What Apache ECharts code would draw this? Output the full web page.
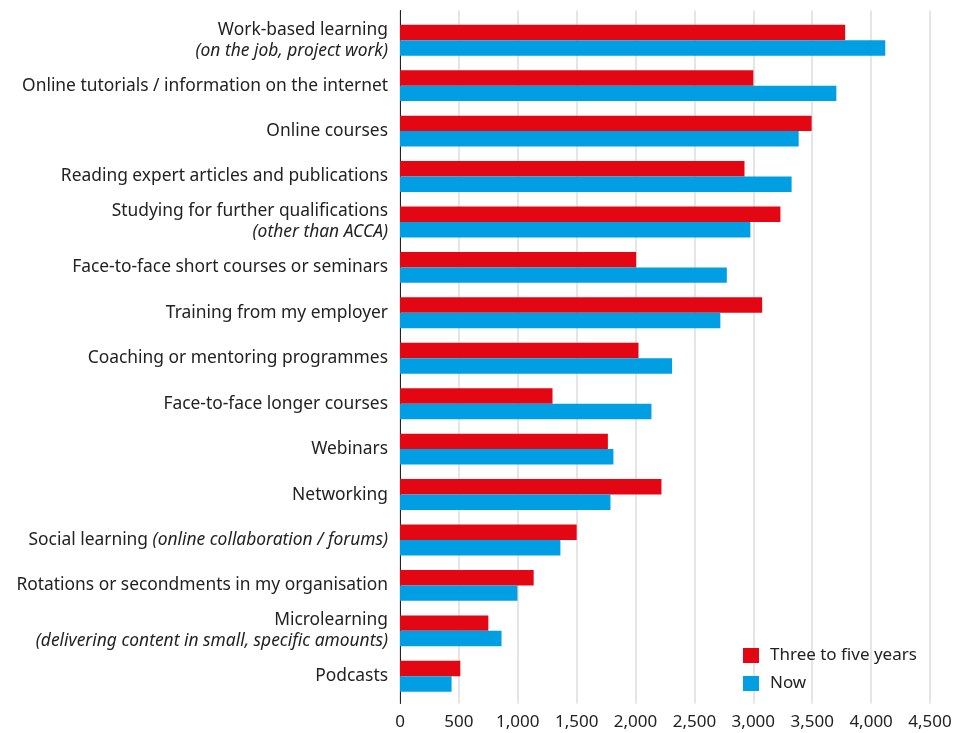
<!DOCTYPE html>
<html><head><meta charset="utf-8">
<script src="https://cdn.jsdelivr.net/npm/echarts@6/dist/echarts.min.js"></script>
<style>html,body{margin:0;padding:0;background:#fff}#c{width:965px;height:733px}</style>
</head><body><div id="c"></div>
<script>
const categories = [
  "Work-based learning\n(on the job, project work)",
  "Online tutorials / information on the internet",
  "Online courses",
  "Reading expert articles and publications",
  "Studying for further qualifications\n(other than ACCA)",
  "Face-to-face short courses or seminars",
  "Training from my employer",
  "Coaching or mentoring programmes",
  "Face-to-face longer courses",
  "Webinars",
  "Networking",
  "Social learning (online collaboration / forums)",
  "Rotations or secondments in my organisation",
  "Microlearning\n(delivering content in small, specific amounts)",
  "Podcasts"
];
const threeToFive = [3780, 3000, 3495, 2925, 3230, 2005, 3075, 2025, 1295, 1765, 2220, 1500, 1135, 750, 512];
const now = [4120, 3705, 3385, 3325, 2975, 2775, 2720, 2310, 2135, 1812, 1787, 1362, 997, 862, 438];
const xTicks = [0, 500, 1000, 1500, 2000, 2500, 3000, 3500, 4000, 4500];

const FONT = '"Noto Sans"';
const FS = 17;
const FSY = 17.4;
const chart = echarts.init(document.getElementById('c'));
function fmtLabel(v) {
  return v.split('\n').map(line =>
    line.replace(/\(([^)]*)\)/g, '{i|($1)}')
  ).join('\n');
}
chart.setOption({
  animation: false,
  textStyle: { fontFamily: FONT },
  legend: {
    orient: 'vertical', left: 738, top: 642,
    itemWidth: 16, itemHeight: 15, itemGap: 11,
    icon: 'rect',
    textStyle: { fontSize: FS, color: '#222', fontFamily: FONT, padding: [0, 0, 0, 6] },
    data: ['Three to five years', 'Now']
  },
  grid: [
    { left: 400, right: 35, top: 17.5, bottom: 34 },
    { left: 400, right: 35, top: 10.5, bottom: 29.5 }
  ],
  xAxis: [
    { gridIndex: 0, type: 'value', min: xTicks[0], max: xTicks[xTicks.length - 1], interval: 500,
      axisLine: { show: false }, axisTick: { show: false }, axisLabel: { show: false }, splitLine: { show: false } },
    { gridIndex: 1, type: 'value', min: xTicks[0], max: xTicks[xTicks.length - 1], interval: 500,
      axisLine: { show: false }, axisTick: { show: false },
      axisLabel: { fontSize: FS, color: '#222', fontFamily: FONT, margin: 10,
        formatter: v => v.toLocaleString('en-US') },
      splitLine: { show: true, lineStyle: { color: '#dcdcdc', width: 1.5 } } }
  ],
  yAxis: [
    { gridIndex: 0, type: 'category', data: categories, inverse: true,
      axisLine: { show: false }, axisTick: { show: false },
      axisLabel: { fontSize: FSY, color: '#222', fontFamily: FONT, margin: 12, lineHeight: 21,
        formatter: fmtLabel,
        rich: { i: { fontStyle: 'italic', fontSize: FSY, color: '#222', fontFamily: FONT, lineHeight: 21 } } } },
    { gridIndex: 1, type: 'value', min: 0, max: 1,
      axisLine: { show: true, onZero: false, lineStyle: { color: '#222', width: 1 } },
      axisTick: { show: false }, axisLabel: { show: false }, splitLine: { show: false } }
  ],
  series: [
    { name: 'Three to five years', type: 'bar', xAxisIndex: 0, yAxisIndex: 0, data: threeToFive,
      itemStyle: { color: '#E30613' }, barGap: '0%', barCategoryGap: '32%' },
    { name: 'Now', type: 'bar', xAxisIndex: 0, yAxisIndex: 0, data: now,
      itemStyle: { color: '#009FE3' }, barGap: '0%', barCategoryGap: '32%' }
  ]
});
</script></body></html>
